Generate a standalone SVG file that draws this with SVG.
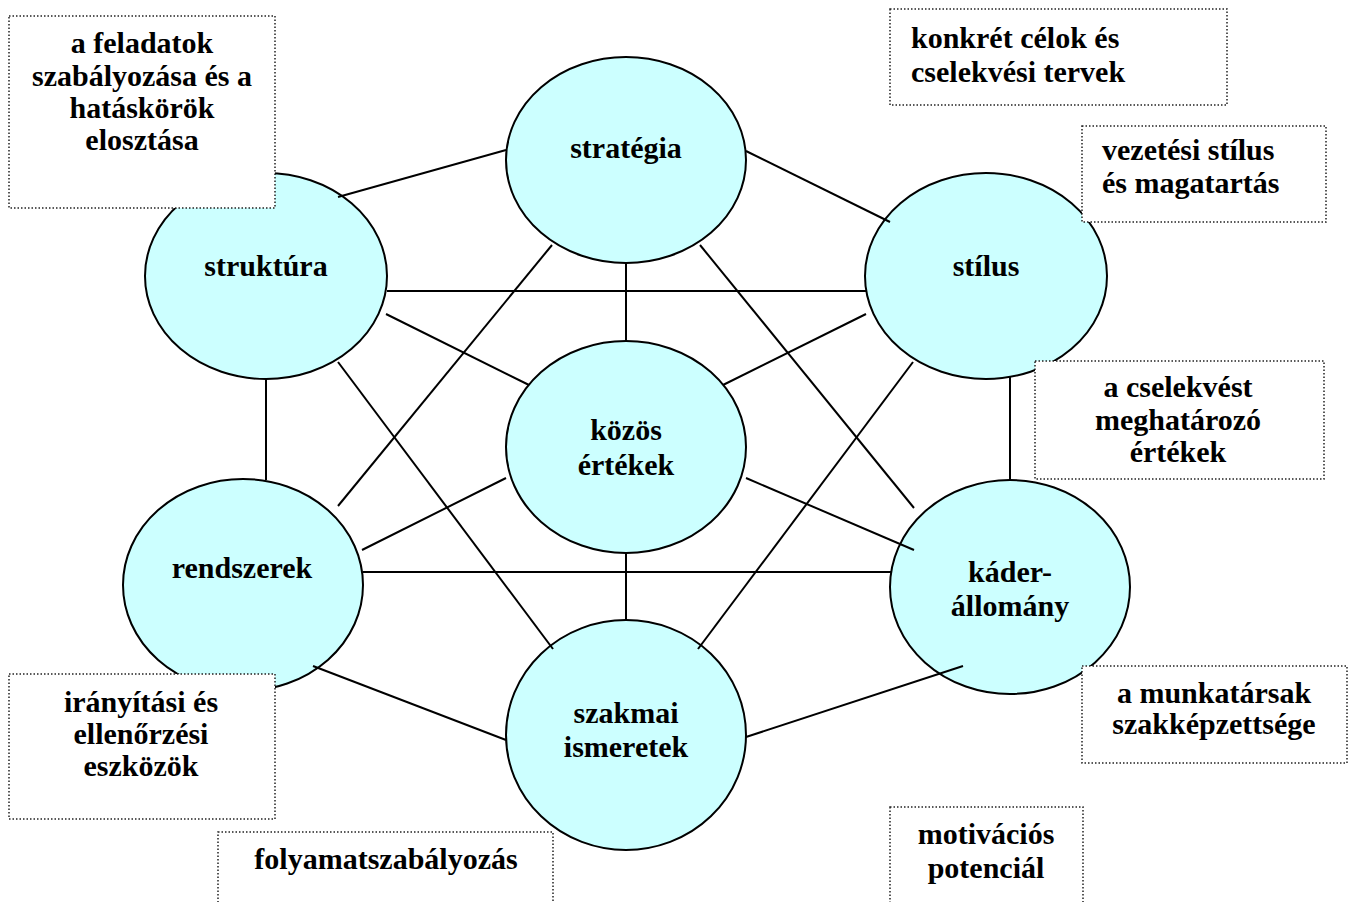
<svg xmlns="http://www.w3.org/2000/svg" width="1354" height="902" viewBox="0 0 1354 902">
  <style>
    .node ellipse { fill: #ccffff; stroke: #000; stroke-width: 2; }
    .lbl { font-family: "Liberation Serif", "DejaVu Serif", serif; font-weight: bold; font-size: 30px; fill: #000; text-anchor: middle; }
    .note rect { fill: #fff; stroke: #222; stroke-width: 1.5; stroke-dasharray: 1.5 2; }
    .left { text-anchor: start; }
    #connectors line { stroke: #000; stroke-width: 2; }
  </style>

  <!-- seven elements -->
  <g id="strategia" class="node">
    <ellipse cx="626" cy="160" rx="120" ry="103"/>
    <text class="lbl" x="626" y="158">stratégia</text>
  </g>
  <g id="struktura" class="node">
    <ellipse cx="266" cy="276" rx="121" ry="103"/>
    <text class="lbl" x="266" y="276">struktúra</text>
  </g>
  <g id="stilus" class="node">
    <ellipse cx="986" cy="276" rx="121" ry="103"/>
    <text class="lbl" x="986" y="276">stílus</text>
  </g>
  <g id="kozos-ertekek" class="node">
    <ellipse cx="626" cy="447" rx="120" ry="106"/>
    <text class="lbl" x="626" y="440">közös</text>
    <text class="lbl" x="626" y="475">értékek</text>
  </g>
  <g id="rendszerek" class="node">
    <ellipse cx="243" cy="585" rx="120" ry="106"/>
    <text class="lbl" x="242" y="578">rendszerek</text>
  </g>
  <g id="kaderallomany" class="node">
    <ellipse cx="1010" cy="587" rx="120" ry="107"/>
    <text class="lbl" x="1010" y="582">káder-</text>
    <text class="lbl" x="1010" y="616">állomány</text>
  </g>
  <g id="szakmai-ismeretek" class="node">
    <ellipse cx="626" cy="735" rx="120" ry="115"/>
    <text class="lbl" x="626" y="723">szakmai</text>
    <text class="lbl" x="626" y="757">ismeretek</text>
  </g>

  <!-- links between the elements -->
  <g id="connectors">
    <line x1="338" y1="197" x2="506" y2="150"/>
    <line x1="746" y1="151" x2="890" y2="222"/>
    <line x1="387" y1="291" x2="866" y2="291"/>
    <line x1="386" y1="314" x2="529" y2="385"/>
    <line x1="866" y1="314" x2="723" y2="385"/>
    <line x1="626" y1="263" x2="626" y2="342"/>
    <line x1="552" y1="245" x2="338" y2="506"/>
    <line x1="700" y1="245" x2="914" y2="508"/>
    <line x1="338" y1="362" x2="553" y2="649"/>
    <line x1="913" y1="362" x2="698" y2="649"/>
    <line x1="362" y1="550" x2="506" y2="478"/>
    <line x1="746" y1="478" x2="914" y2="550"/>
    <line x1="363" y1="572" x2="891" y2="572"/>
    <line x1="266" y1="379" x2="266" y2="480"/>
    <line x1="1010" y1="377" x2="1010" y2="481"/>
    <line x1="626" y1="553" x2="626" y2="620"/>
    <line x1="313" y1="666" x2="506" y2="740"/>
    <line x1="746" y1="737" x2="963" y2="666"/>
  </g>

  <!-- explanatory notes -->
  <g id="note-feladatok" class="note">
    <rect x="9" y="16" width="266" height="192"/>
    <text class="lbl" x="142" y="53">a feladatok</text>
    <text class="lbl" x="142" y="86">szabályozása és a</text>
    <text class="lbl" x="142" y="118">hatáskörök</text>
    <text class="lbl" x="142" y="150">elosztása</text>
  </g>
  <g id="note-celok" class="note">
    <rect x="890" y="9" width="337" height="96"/>
    <text class="lbl left" x="911" y="48">konkrét célok és</text>
    <text class="lbl left" x="911" y="82">cselekvési tervek</text>
  </g>
  <g id="note-vezetesi" class="note">
    <rect x="1082" y="126" width="244" height="96"/>
    <text class="lbl left" x="1102" y="160">vezetési stílus</text>
    <text class="lbl left" x="1102" y="193">és magatartás</text>
  </g>
  <g id="note-ertekek" class="note">
    <rect x="1035" y="361" width="289" height="118"/>
    <text class="lbl" x="1178" y="397">a cselekvést</text>
    <text class="lbl" x="1178" y="430">meghatározó</text>
    <text class="lbl" x="1178" y="462">értékek</text>
  </g>
  <g id="note-iranyitasi" class="note">
    <rect x="9" y="674" width="266" height="145"/>
    <text class="lbl" x="141" y="712">irányítási és</text>
    <text class="lbl" x="141" y="744">ellenőrzési</text>
    <text class="lbl" x="141" y="776">eszközök</text>
  </g>
  <g id="note-folyamat" class="note">
    <rect x="218" y="832" width="335" height="80"/>
    <text class="lbl" x="386" y="869">folyamatszabályozás</text>
  </g>
  <g id="note-munkatarsak" class="note">
    <rect x="1082" y="666" width="265" height="97"/>
    <text class="lbl" x="1214" y="703">a munkatársak</text>
    <text class="lbl" x="1214" y="734">szakképzettsége</text>
  </g>
  <g id="note-motivacios" class="note">
    <rect x="890" y="807" width="193" height="100"/>
    <text class="lbl" x="986" y="844">motivációs</text>
    <text class="lbl" x="986" y="878">potenciál</text>
  </g>
</svg>
